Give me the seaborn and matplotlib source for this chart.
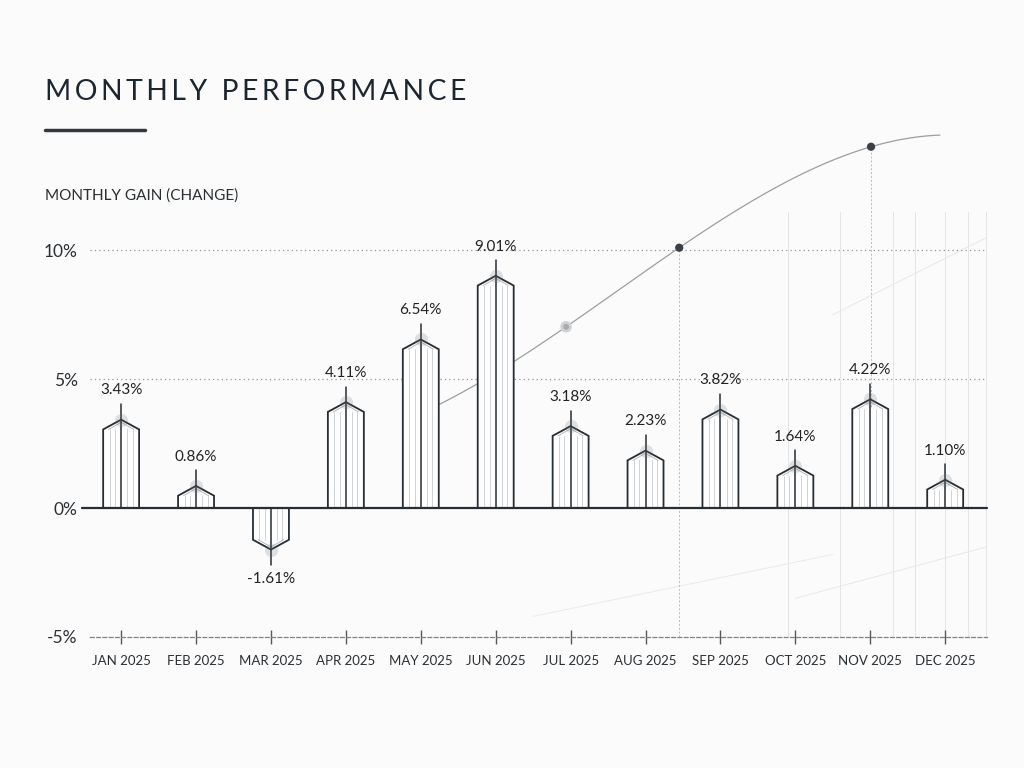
import numpy as np
import pandas as pd
import matplotlib
matplotlib.use("Agg")
import matplotlib.pyplot as plt
import seaborn as sns

# data
months = ["JAN 2025", "FEB 2025", "MAR 2025", "APR 2025", "MAY 2025", "JUN 2025",
          "JUL 2025", "AUG 2025", "SEP 2025", "OCT 2025", "NOV 2025", "DEC 2025"]
gains = [3.43, 0.86, -1.61, 4.11, 6.54, 9.01, 3.18, 2.23, 3.82, 1.64, 4.22, 1.10]
y_ticks = [-5, 0, 5, 10]
y_tick_labels = ["-5%", "0%", "5%", "10%"]

# decorative trend arc in the background (month index, % level)
arc_x = [4.0, 4.9, 5.94, 7.45, 8.53, 10.01, 10.93]
arc_y = [3.6, 5.25, 6.93, 10.04, 12.14, 14.05, 14.44]
arc_dots = [5.94, 7.45, 10.01]
drop_to = [None, -5, 0]
# faint sketch lines behind the right-hand side
sketch_x = [8.9, 9.6, 10.3, 10.6, 11.0, 11.3, 11.55]

df = pd.DataFrame({"month": months, "gain": gains})

sns.set_theme(style="white")
plt.rcParams["font.family"] = ["Lato", "DejaVu Sans"]

ink = "#262d33"
fig = plt.figure(figsize=(10.24, 7.68), dpi=100, facecolor="#fbfbfb")
ax = fig.add_axes([0.088, 0.1706, 0.876, 0.6714])
ax.set_facecolor("none")

sns.barplot(data=df, x="month", y="gain", color="white", width=0.48,
            linewidth=0, ax=ax)

ax.set_xlim(-0.414, 11.56)
ax.set_ylim(-5, 15)

# background sketch
for sx in sketch_x:
    ax.plot([sx, sx], [-5, 11.5], color="#e3e5e6", lw=0.7, zorder=0)
ax.plot([9.5, 11.56], [7.5, 10.5], color="#e6e8e9", lw=0.7, zorder=0)
ax.plot([9.0, 11.56], [-3.5, -1.5], color="#e6e8e9", lw=0.7, zorder=0)
ax.plot([5.5, 9.5], [-4.2, -1.8], color="#e9eaeb", lw=0.7, zorder=0)

# background arc
coef = np.polyfit(arc_x, arc_y, 3)
xs = np.linspace(arc_x[0], arc_x[-1], 200)
ax.plot(xs, np.polyval(coef, xs), color="#9a9fa3", lw=0.9, zorder=0)
dot_y = np.polyval(coef, arc_dots)
for xd, yd, yb in zip(arc_dots, dot_y, drop_to):
    if yb is not None:
        ax.plot([xd, xd], [yb, yd], color="#b8bcbf", lw=0.7, ls=(0, (2, 2)), zorder=0)
ax.scatter(arc_dots, dot_y, s=[40, 35, 35],
           color=["#a9acae", "#3a4044", "#3a4044"], edgecolor=["#d0d2d3", "none", "none"],
           linewidth=2, zorder=1)

# grid lines
for yv in y_ticks:
    if yv > 0:
        ax.axhline(yv, color="#8f9499", lw=0.9, ls=(0, (1, 2.5)), zorder=0)
ax.axhline(0, xmin=-0.009, color=ink, lw=1.6, zorder=3, clip_on=False)

# sketched bars with a pointed roof
roof = 0.38
for p, v in zip(ax.patches, gains):
    x0, w = p.get_x(), p.get_width()
    s = 1 if v >= 0 else -1
    shoulder = v - s * roof
    p.set_height(shoulder)
    mid = x0 + w / 2
    for fx in (0.18, 0.33, 0.67, 0.82):
        ax.plot([x0 + w * fx] * 2, [0, shoulder], color="#c8cbcd", lw=0.6, zorder=2)
    ax.plot([x0 + w * 0.15, mid, x0 + w * 0.85], [shoulder, v - s * 0.1, shoulder],
            color="#b0b4b7", lw=0.6, zorder=2)
    ax.plot([mid, mid], [0, v + s * 0.6], color=ink, lw=1.1, zorder=3)
    ax.plot([x0, x0, mid, x0 + w, x0 + w], [0, shoulder, v, shoulder, 0],
            color=ink, lw=1.3, zorder=3, solid_joinstyle="miter")
    ax.scatter([mid], [v], s=90, color="#6b7176", alpha=0.2, linewidth=0, zorder=3)
    ax.annotate(f"{v:.2f}%", (mid, v), xytext=(0, 21 * s), textcoords="offset points",
                ha="center", va="center", fontsize=11, color="#222")

# axes styling
sns.despine(ax=ax, left=True, top=True, right=True)
ax.spines["bottom"].set_color("#7d8286")
ax.spines["bottom"].set_linewidth(0.9)
ax.spines["bottom"].set_linestyle((0, (3, 2)))
ax.set_yticks(y_ticks)
ax.set_yticklabels(y_tick_labels)
ax.tick_params(axis="y", length=0, pad=9, labelsize=12.5, labelcolor="#2a2f33")
ax.tick_params(axis="x", bottom=True, direction="inout", length=10, width=1,
               color="#555a5e", pad=8, labelsize=9.5, labelcolor="#2a2f33")
ax.set_xlabel("")
ax.set_ylabel("")

# titles
title = "\u2009".join("MONTHLY PERFORMANCE")
fig.text(0.044, 0.880, title, fontsize=20.3, color="#1c2630", ha="left", va="center")
fig.add_artist(plt.Line2D([0.044, 0.142], [0.8305, 0.8305], color="#2f3a40", lw=2.5))
fig.text(0.044, 0.746, "MONTHLY GAIN (CHANGE)", fontsize=11, color="#2a2f33",
         ha="left", va="center")

fig.savefig("out.png", dpi=100, facecolor=fig.get_facecolor())
